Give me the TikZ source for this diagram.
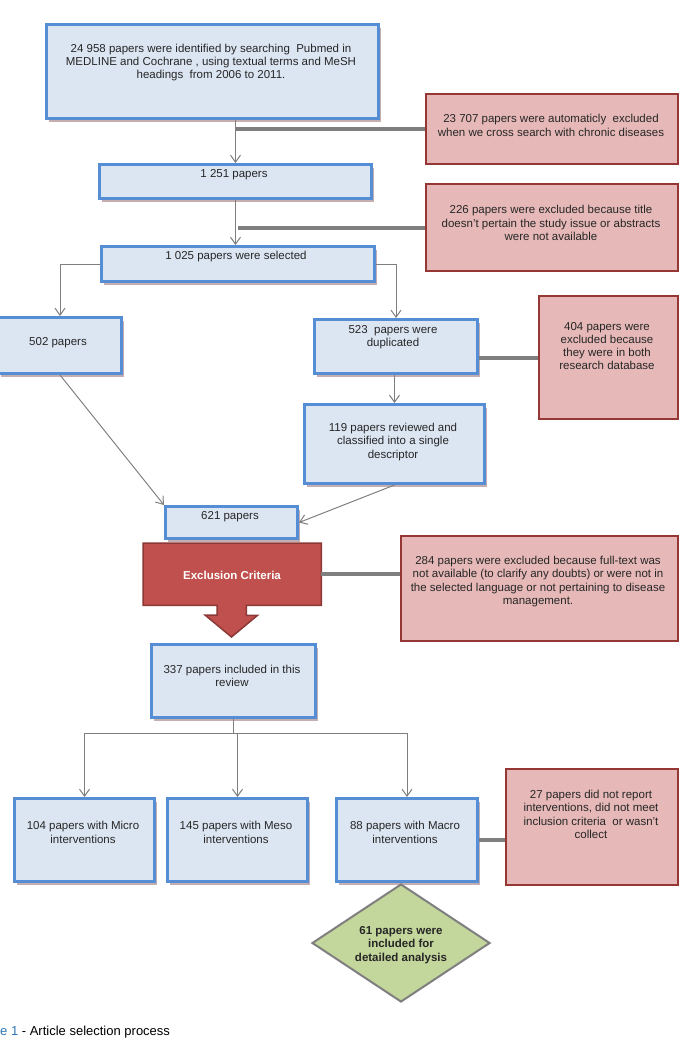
\documentclass[tikz,border=0pt]{standalone}
\usepackage{fontspec}
\setmainfont{Liberation Sans}
\usetikzlibrary{arrows.meta,shapes.geometric,shadows}

\definecolor{boxblue}{HTML}{DCE6F2}
\definecolor{lineblue}{HTML}{558ED5}
\definecolor{boxred}{HTML}{E6B9B8}
\definecolor{linered}{HTML}{953735}
\definecolor{critred}{HTML}{C0504D}
\definecolor{critline}{HTML}{8C3836}
\definecolor{boxgreen}{HTML}{C3D69B}
\definecolor{linkgray}{HTML}{7F7F7F}
\definecolor{shadowc}{HTML}{C4AEB0}
\definecolor{capblue}{HTML}{2E75B6}

\begin{document}
\begin{tikzpicture}[x=1pt,y=-1pt,font=\fontsize{11.5}{13.3}\selectfont,
    >={Straight Barb[length=7pt,width=10pt]}]
          \tikzstyle{paper}=[rectangle,draw=lineblue,line width=3pt,fill=boxblue,anchor=north west,inner sep=0pt,
            drop shadow={shadow xshift=2.5pt,shadow yshift=-3pt,fill=shadowc,opacity=1}]
          \tikzstyle{excl}=[rectangle,draw=linered,line width=2pt,fill=boxred,anchor=north west,inner sep=0pt]
          \tikzstyle{txt}=[align=center,inner sep=0pt,text=black!85]
          \tikzstyle{link}=[color=linkgray,line width=1pt,->]
          \tikzstyle{bar}=[draw=linkgray,line width=4pt]

          \useasboundingbox (0,0) rectangle (678,1039);

          % boxes
          \node[paper,minimum width=332,minimum height=94](search) at (45,23) {};
          \node[excl,minimum width=252,minimum height=70](auto) at (425,93) {};
          \node[paper,minimum width=272,minimum height=34](n1251) at (98,163) {};
          \node[excl,minimum width=252,minimum height=87](title) at (425,183) {};
          \node[paper,minimum width=273,minimum height=35](n1025) at (100,245) {};
          \node[paper,minimum width=123,minimum height=56](n502) at (-3,316) {};
          \node[paper,minimum width=163,minimum height=54](n523) at (313,318) {};
          \node[excl,minimum width=139,minimum height=123](dupl) at (538,295) {};
          \node[paper,minimum width=180,minimum height=79](n119) at (303,403) {};
          \node[paper,minimum width=132,minimum height=32](n621) at (164,505) {};
          \node[excl,minimum width=277,minimum height=105](full) at (400,535) {};
          \node[paper,minimum width=164,minimum height=73](n337) at (150,643) {};
          \node[paper,minimum width=140,minimum height=83](micro) at (13,797) {};
          \node[paper,minimum width=140,minimum height=83](meso) at (166,797) {};
          \node[paper,minimum width=141,minimum height=83](macro) at (335,797) {};
          \node[excl,minimum width=172,minimum height=116](notrep) at (505,768) {};

          % exclusion criteria block arrow
          \node[minimum width=178,minimum height=62,inner sep=0pt,anchor=north west](crit) at (143,543) {};
          \filldraw[fill=critred,draw=critline,line width=1.5pt,line join=miter]
            (crit.north west) -- (crit.north east) -- (crit.south east)
            -- ([xshift=-75]crit.south east) -- ++(0,10) -- ++(11,0) -- (231.5,637)
            -- (205,615) -- (217,615) -- ([xshift=74]crit.south west) -- (crit.south west) -- cycle;

          % final decision
          \node[diamond,draw=linkgray,line width=2pt,fill=boxgreen,minimum width=178,minimum height=118,inner sep=0pt](final) at (401,943) {};

          % texts
          \node[txt](searchT) at (211,62.5) {24 958 papers were identified by searching\ \ Pubmed in\\MEDLINE and Cochrane , using textual terms and MeSH\\headings\ \ from 2006 to 2011.};
          \node[txt](autoT) at (551,125.5) {23 707 papers were automaticly\ \ excluded\\when we cross search with chronic diseases};
          \node[txt](n1251T) at (234,175) {1 251 papers};
          \node[txt](titleT) at (551,223) {226 papers were excluded because title\\doesn't pertain the study issue or abstracts\\were not available};
          \node[txt](n1025T) at (236,257) {1 025 papers were selected};
          \node[txt](n502T) at (58,343) {502 papers};
          \node[txt](n523T) at (393,337) {523\ \ papers were\\duplicated};
          \node[txt](duplT) at (607,346) {404 papers were\\excluded because\\they were in both\\research database};
          \node[txt](n119T) at (393,442) {119 papers reviewed and\\classified into a single\\descriptor};
          \node[txt](n621T) at (230,517) {621 papers};
          \node[txt,text=white,font=\fontsize{11.5}{13.3}\selectfont\bfseries](critT) at (232,575) {Exclusion Criteria};
          \node[txt](fullT) at (538,581.5) {284 papers were excluded because full-text was\\not available (to clarify any doubts) or were not in\\the selected language or not pertaining to disease\\management.};
          \node[txt](n337T) at (232,676) {337 papers included in this\\review};
          \node[txt](microT) at (83,832.5) {104 papers with Micro\\interventions};
          \node[txt](mesoT) at (236,832.5) {145 papers with Meso\\interventions};
          \node[txt](macroT) at (405,832.5) {88 papers with Macro\\interventions};
          \node[txt](notrepT) at (591,814.5) {27 papers did not report\\interventions, did not meet\\inclusion criteria\ \ or wasn't\\collect};
          \node[txt,font=\fontsize{11.5}{13.3}\selectfont\bfseries](finalT) at (401,945) {61 papers were\\included for\\detailed analysis};

          % connectors
          \path[link]
            (search.south -| n1251.north) edge (n1251.north)
            (n1251.south) edge (n1251.south |- n1025.north)
            (n523.south -| n119.north) edge (n119.north)
            (n502.south) edge (n621.north west)
            (n119.south) edge (n621.east);
          \draw[link] (n1025.west) -| (n502.north);
          \draw[link] (n1025.east) -| (n523.north);
          \draw[link] (n337.south) -- ++(0,14) -| (micro.north);
          \draw[link] (n337.south) -- ++(0,14) -| (meso.north);
          \draw[link] (n337.south) -- ++(0,14) -| (macro.north);

          \draw[bar] (auto.west -| n1251.north) -- (auto.west);
          \draw[bar] (title.west -| n1025.north) -- (title.west);
          \draw[bar] (n523.east |- dupl.west) -- (dupl.west);
          \draw[bar] (crit.east) -- (crit.east -| full.west);
          \draw[bar] (macro.east) -- (macro.east -| notrep.west);

          % caption
          \node[anchor=base west,inner sep=0pt,font=\fontsize{13}{14}\selectfont](caption) at (0,1035) {\textcolor{capblue}{e 1} - Article selection process};
\end{tikzpicture}
\end{document}
